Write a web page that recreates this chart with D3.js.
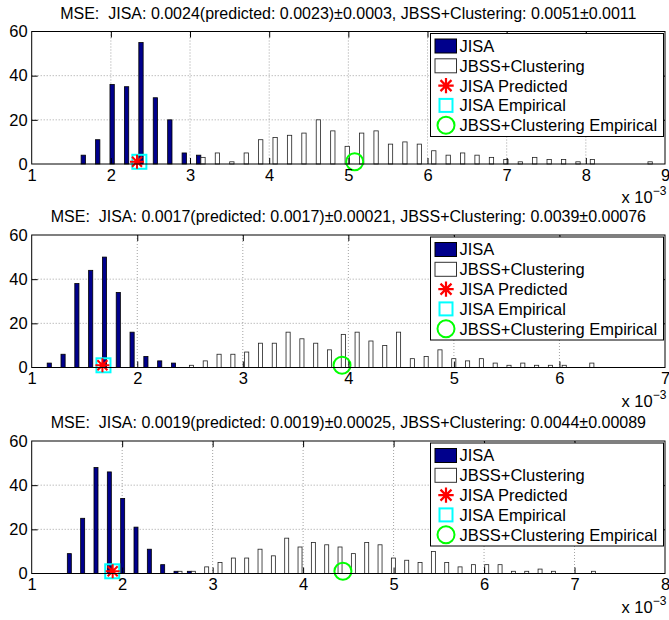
<!DOCTYPE html>
<html>
<head>
<meta charset="utf-8">
<script src="https://cdn.jsdelivr.net/npm/d3@7/dist/d3.min.js"></script>
<style>
  body { margin: 0; background: #fff; }
  text { font-family: "Liberation Sans", Arial, Helvetica, sans-serif; fill: #000; }
</style>
</head>
<body>
<svg id="chart" width="669" height="620"></svg>
<script>
window.addEventListener('DOMContentLoaded', () => {

    // ---- data ----
    const titles = [
        'MSE:\u00a0 JISA: 0.0024(predicted: 0.0023)\u00b10.0003, JBSS+Clustering: 0.0051\u00b10.0011',
        'MSE:\u00a0 JISA: 0.0017(predicted: 0.0017)\u00b10.00021, JBSS+Clustering: 0.0039\u00b10.00076',
        'MSE:\u00a0 JISA: 0.0019(predicted: 0.0019)\u00b10.00025, JBSS+Clustering: 0.0044\u00b10.00089'
    ];
    const xDomains = [[1, 9], [1, 7], [1, 8]];
    const xTicks = [
        [1, 2, 3, 4, 5, 6, 7, 8, 9],
        [1, 2, 3, 4, 5, 6, 7],
        [1, 2, 3, 4, 5, 6, 7, 8]
    ];
    const yTicks = [0, 20, 40, 60];

    // histogram bins (first bin centre and bin width, units of 1e-3)
    const binStart = [1.679, 1.186, 1.438];
    const binWidth = [0.1822, 0.1308, 0.1474];

    const jisaCounts1 = [4, 11, 36, 35, 55, 30, 20, 5, 4, 0, 0, 0, 0, 0, 0, 0, 0, 0, 0, 0,
                         0, 0, 0, 0, 0, 0, 0, 0, 0, 0, 0, 0, 0, 0, 0, 0, 0, 0, 0, 0];
    const jbssCounts1 = [0, 0, 0, 0, 0, 0, 0, 0, 3, 5, 1, 5, 11, 12, 13, 14, 20, 15, 8, 14,
                         15, 9, 10, 9, 6, 4, 5, 4, 3, 2, 1, 3, 2, 2, 1, 2, 0, 0, 0, 1];
    const jisaCounts2 = [2, 6, 38, 44, 50, 34, 16, 5, 3, 2, 0, 0, 0, 0, 0, 0, 0, 0, 0, 0,
                         0, 0, 0, 0, 0, 0, 0, 0, 0, 0, 0, 0, 0, 0, 0, 0, 0, 0, 0, 0];
    const jbssCounts2 = [0, 0, 0, 0, 0, 0, 0, 0, 0, 0, 1, 3, 6, 6, 7, 11, 11, 16, 13, 11,
                         8, 15, 16, 12, 10, 16, 4, 5, 8, 4, 3, 4, 2, 1, 2, 1, 1, 1, 0, 2];
    const jisaCounts3 = [9, 25, 48, 46, 34, 21, 11, 4, 1, 1, 0, 0, 0, 0, 0, 0, 0, 0, 0, 0,
                         0, 0, 0, 0, 0, 0, 0, 0, 0, 0, 0, 0, 0, 0, 0, 0, 0, 0, 0, 0];
    const jbssCounts3 = [0, 0, 0, 0, 0, 0, 0, 0, 1, 1, 3, 5, 7, 7, 11, 8, 16, 12, 14, 13,
                         12, 9, 14, 13, 7, 6, 5, 10, 5, 3, 4, 4, 4, 1, 1, 2, 1, 0, 0, 1];

    const jisaCounts = [jisaCounts1, jisaCounts2, jisaCounts3];
    const jbssCounts = [jbssCounts1, jbssCounts2, jbssCounts3];

    const jisaPredicted = [2.33, 1.67, 1.895];
    const jisaEmpirical = [2.36, 1.68, 1.89];
    const jbssEmpirical = [5.08, 3.94, 4.44];
    const markerLevel = 1;

    const legendLabels = ['JISA', 'JBSS+Clustering', 'JISA Predicted', 'JISA Empirical', 'JBSS+Clustering Empirical'];

    // ---- layout ----
    const left = 31.7, right = 665;
    const panelTops = [31.5, 235, 441];
    const panelHeight = 132.5;
    const fontSize = 16.5;
    const titleSize = 16;
    const tickLen = 6;
    const navy = '#00008c';

    const svg = d3.select('#chart');
    const starPath = 'M-7,0L7,0M0,-7L0,7M-5,-5L5,5M-5,5L5,-5';

    function drawPanel(i){
        const top = panelTops[i], bottom = top + panelHeight;
        const x = d3.scaleLinear().domain(xDomains[i]).range([left, right]);
        const y = d3.scaleLinear().domain([0, 60]).range([bottom, top]);
        const g = svg.append('g');

        // title
        g.append('text')
            .attr('x', (left + right) / 2)
            .attr('y', top - 13)
            .attr('text-anchor', 'middle')
            .style('font-size', titleSize + 'px')
            .text(titles[i]);

        // dotted grid
        const grid = g.append('g')
            .attr('stroke', '#8a8a8a')
            .attr('stroke-width', 0.8)
            .attr('stroke-dasharray', '1,2');
        grid.selectAll('.gx')
            .data(xTicks[i].slice(1, -1))
            .join('line')
            .attr('x1', d => x(d)).attr('x2', d => x(d))
            .attr('y1', top).attr('y2', bottom);
        grid.selectAll('.gy')
            .data(yTicks.slice(1, -1))
            .join('line')
            .attr('x1', left).attr('x2', right)
            .attr('y1', d => y(d)).attr('y2', d => y(d));

        // bars
        const w = binWidth[i];
        const barW = x(1 + w * 0.3) - x(1);
        const centres = jisaCounts[i].map((c, k) => binStart[i] + k * w);

        g.append('g').selectAll('rect')
            .data(jisaCounts[i].map((c, k) => ({c, x: centres[k]})).filter(d => d.c > 0))
            .join('rect')
            .attr('x', d => x(d.x - w * 0.3))
            .attr('width', barW)
            .attr('y', d => y(d.c))
            .attr('height', d => y(0) - y(d.c))
            .attr('fill', navy)
            .attr('stroke', '#000')
            .attr('stroke-width', 0.8);

        g.append('g').selectAll('rect')
            .data(jbssCounts[i].map((c, k) => ({c, x: centres[k]})).filter(d => d.c > 0))
            .join('rect')
            .attr('x', d => x(d.x))
            .attr('width', barW)
            .attr('y', d => y(d.c))
            .attr('height', d => y(0) - y(d.c))
            .attr('fill', '#fff')
            .attr('stroke', '#222')
            .attr('stroke-width', 0.8);

        // markers
        g.append('rect')
            .attr('x', x(jisaEmpirical[i]) - 7)
            .attr('y', y(markerLevel) - 7)
            .attr('width', 14).attr('height', 14)
            .attr('fill', 'none')
            .attr('stroke', '#00ffff')
            .attr('stroke-width', 2);
        g.append('path')
            .attr('d', starPath)
            .attr('transform', `translate(${x(jisaPredicted[i])},${y(markerLevel)})`)
            .attr('stroke', '#ff0000')
            .attr('stroke-width', 2)
            .attr('fill', 'none');
        g.append('circle')
            .attr('cx', x(jbssEmpirical[i]))
            .attr('cy', y(markerLevel))
            .attr('r', 8.5)
            .attr('fill', 'none')
            .attr('stroke', '#00ff00')
            .attr('stroke-width', 2);

        // axes with inward ticks on all four sides
        const xb = g.append('g').attr('transform', `translate(0,${bottom})`)
            .call(d3.axisBottom(x).tickValues(xTicks[i]).tickSize(-tickLen).tickPadding(6).tickFormat(d3.format('d')));
        const xt = g.append('g').attr('transform', `translate(0,${top})`)
            .call(d3.axisTop(x).tickValues(xTicks[i]).tickSize(-tickLen).tickFormat(''));
        const yl = g.append('g').attr('transform', `translate(${left},0)`)
            .call(d3.axisLeft(y).tickValues(yTicks).tickSize(-tickLen).tickPadding(4));
        const yr = g.append('g').attr('transform', `translate(${right},0)`)
            .call(d3.axisRight(y).tickValues(yTicks).tickSize(-tickLen).tickFormat(''));
        [xb, xt, yl, yr].forEach(a => {
            a.select('.domain').remove();
            a.selectAll('line').attr('stroke', '#000');
            a.selectAll('text')
                .style('font-size', fontSize + 'px')
                .style('font-family', '"Liberation Sans", Arial, sans-serif')
                .attr('fill', '#000');
        });
        xb.selectAll('text').attr('dy', '0.71em').attr('y', 5);
        xb.selectAll('.tick').filter(d => d === xDomains[i][0] || d === xDomains[i][1]).select('line').remove();
        xt.selectAll('.tick').filter(d => d === xDomains[i][0] || d === xDomains[i][1]).select('line').remove();
        yl.selectAll('.tick').filter(d => d === 0 || d === 60).select('line').remove();
        yr.selectAll('.tick').filter(d => d === 0 || d === 60).select('line').remove();

        g.append('rect')
            .attr('x', left).attr('y', top)
            .attr('width', right - left).attr('height', bottom - top)
            .attr('fill', 'none')
            .attr('stroke', '#000')
            .attr('stroke-width', 1);

        // exponent label
        const ex = g.append('text')
            .attr('x', 621.5)
            .attr('y', bottom + 39)
            .style('font-size', fontSize + 'px');
        ex.append('tspan').text('x 10');
        ex.append('tspan')
            .attr('dy', -8)
            .style('font-size', '12px')
            .text('\u22123');

        // legend
        const lx = 430.5, ly = top + 2, lw = 233, lh = 103;
        const lg = g.append('g');
        lg.append('rect')
            .attr('x', lx).attr('y', ly)
            .attr('width', lw).attr('height', lh)
            .attr('fill', '#fff')
            .attr('stroke', '#000')
            .attr('stroke-width', 1);
        const rowY = k => ly + 12.5 + k * 19.8;
        const sx = lx + 15.5;
        legendLabels.forEach((lab, k) => {
            lg.append('text')
                .attr('x', lx + 29)
                .attr('y', rowY(k))
                .attr('dy', '0.36em')
                .style('font-size', fontSize + 'px')
                .text(lab);
        });
        lg.append('rect').attr('x', sx - 11).attr('y', rowY(0) - 7).attr('width', 21.5).attr('height', 14)
            .attr('fill', navy).attr('stroke', '#000');
        lg.append('rect').attr('x', sx - 11).attr('y', rowY(1) - 7).attr('width', 21.5).attr('height', 14)
            .attr('fill', '#fff').attr('stroke', '#333');
        lg.append('path').attr('d', starPath)
            .attr('transform', `translate(${sx},${rowY(2)}) scale(1.1)`)
            .attr('stroke', '#ff0000').attr('stroke-width', 2).attr('fill', 'none');
        lg.append('rect').attr('x', sx - 6.5).attr('y', rowY(3) - 6.5).attr('width', 13).attr('height', 13)
            .attr('fill', 'none').attr('stroke', '#00ffff').attr('stroke-width', 2);
        lg.append('circle').attr('cx', sx).attr('cy', rowY(4)).attr('r', 8.5)
            .attr('fill', 'none').attr('stroke', '#00ff00').attr('stroke-width', 2);
    }

    [0, 1, 2].forEach(drawPanel);
});
</script>
</body>
</html>
